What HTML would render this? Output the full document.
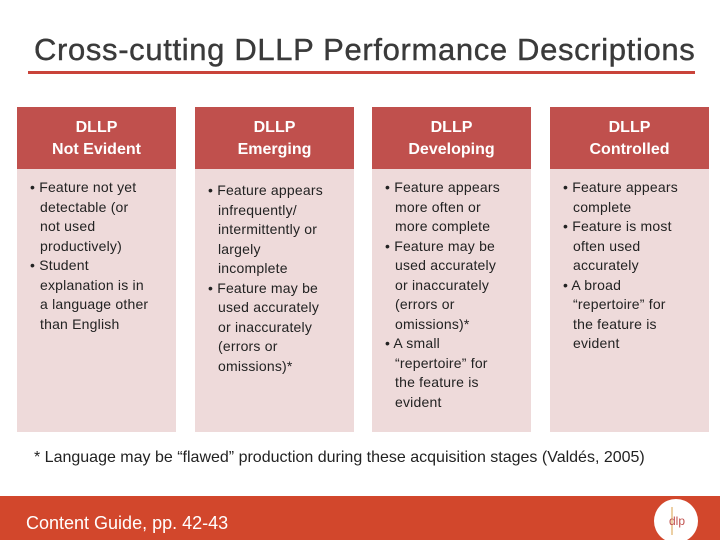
<!DOCTYPE html>
<html><head><meta charset="utf-8"><style>
body{margin:0;width:720px;height:540px;position:relative;background:#fff;font-family:"Liberation Sans",sans-serif;overflow:hidden}
.t{position:absolute;left:34px;top:32px;font-size:31px;color:#3a3a3a;white-space:nowrap;letter-spacing:0.65px;-webkit-text-stroke:0.4px #3a3a3a}
.rule{position:absolute;left:28px;top:71px;width:667px;height:3px;background:#c9433a}
.col{position:absolute;top:107px;width:159px;height:325px;background:#eedada}
.hd{background:#c0504d;color:#fff;font-size:16px;font-weight:bold;text-align:center;line-height:22px;height:62px;padding-top:10px;box-sizing:border-box}
.bd{font-size:14px;line-height:19.5px;color:#222;padding:9px 0 0 23px;white-space:nowrap;letter-spacing:0.2px}
.bd p{margin:0;text-indent:-10px;padding-left:0}
.note{position:absolute;left:34px;top:449px;font-size:16px;color:#222;white-space:nowrap}
.bar{position:absolute;left:0;top:496px;width:720px;height:44px;background:#d2472c}
.cg{position:absolute;left:26px;top:513px;font-size:18px;color:#fff}
.logo{position:absolute;left:654px;top:499px;width:44px;height:44px;border-radius:50%;background:#fff}
</style></head><body>
<div class="t">Cross-cutting DLLP Performance Descriptions</div>
<div class="rule"></div>
<div class="col" style="left:17px"><div class="hd">DLLP<br>Not Evident</div><div class="bd"><p>• Feature not yet<br>detectable (or<br>not used<br>productively)</p><p>• Student<br>explanation is in<br>a language other<br>than English</p></div></div>
<div class="col" style="left:195px"><div class="hd">DLLP<br>Emerging</div><div class="bd" style="padding-top:12px"><p>• Feature appears<br>infrequently/<br>intermittently or<br>largely<br>incomplete</p><p>• Feature may be<br>used accurately<br>or inaccurately<br>(errors or<br>omissions)*</p></div></div>
<div class="col" style="left:372px"><div class="hd">DLLP<br>Developing</div><div class="bd"><p>• Feature appears<br>more often or<br>more complete</p><p>• Feature may be<br>used accurately<br>or inaccurately<br>(errors or<br>omissions)*</p><p>• A small<br>“repertoire” for<br>the feature is<br>evident</p></div></div>
<div class="col" style="left:550px"><div class="hd">DLLP<br>Controlled</div><div class="bd"><p>• Feature appears<br>complete</p><p>• Feature is most<br>often used<br>accurately</p><p>• A broad<br>“repertoire” for<br>the feature is<br>evident</p></div></div>
<div class="note">* Language may be “flawed” production during these acquisition stages (Valdés, 2005)</div>
<div class="bar"></div>
<div class="cg">Content Guide, pp. 42-43</div>
<div class="logo"><svg width="44" height="44"><line x1="18" y1="8" x2="18" y2="36" stroke="#d9a04a"/><text x="15" y="26" font-size="12" fill="#c0504d" font-family="Liberation Sans">dlp</text></svg></div>
</body></html>
